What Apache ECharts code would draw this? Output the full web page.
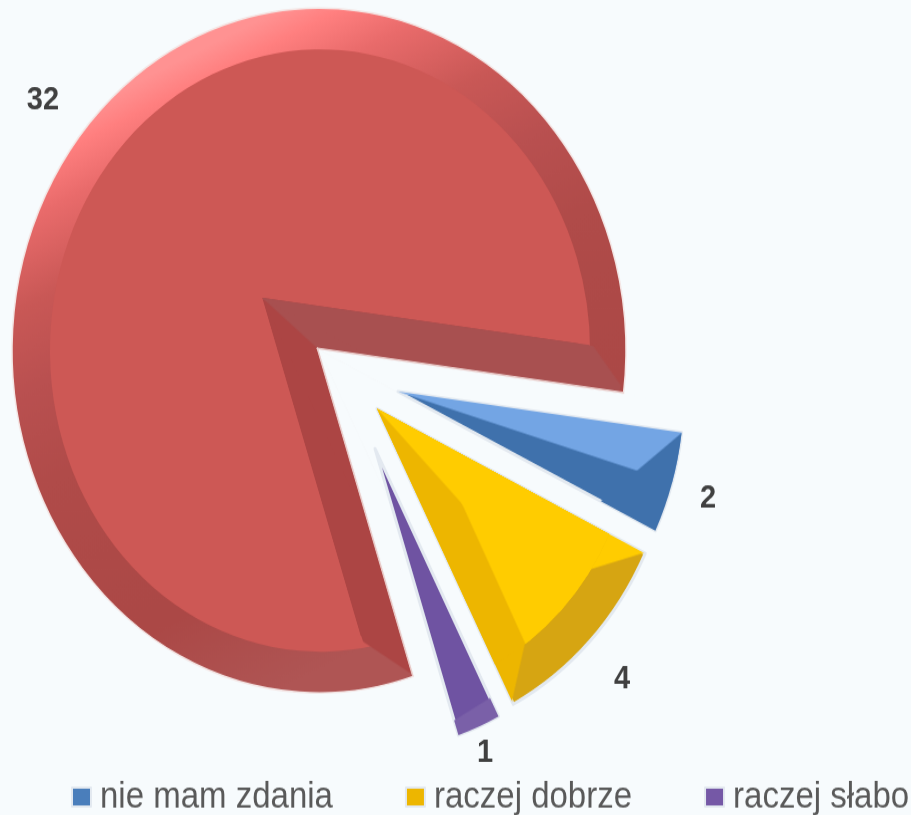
<!DOCTYPE html>
<html>
<head>
<meta charset="utf-8">
<script src="https://cdn.jsdelivr.net/npm/echarts@6/dist/echarts.min.js"></script>
<style>
html,body{margin:0;padding:0;background:#F7FBFD;overflow:hidden;width:911px;height:815px}
#wrap{width:911px;height:815px;overflow:hidden}
#c{width:911px;transform-origin:0 0}
</style>
</head>
<body>
<div id="wrap"><div id="c"></div></div>
<script>
// Data
const categories = ['', 'nie mam zdania', 'raczej dobrze', 'raczej słabo'];
const values = [32, 2, 4, 1];
const legendItems = ['nie mam zdania', 'raczej dobrze', 'raczej słabo'];

// The picture is stretched vertically: circles appear as ellipses
const S = 1.114;
const H = 815;
const el = document.getElementById('c');
el.style.height = (H / S) + 'px';
el.style.transform = 'scaleY(' + S + ')';
const P = (x, y) => [x, y / S];

const START = -72;
const BG = '#F7FBFD';
const T = 'rgba(0,0,0,0)';

function grad(p0, p1, stops) {
  return {type:'linear', x:p0[0], y:p0[1], x2:p1[0], y2:p1[1], global:true,
          colorStops:stops.map(s => ({offset:s[0], color:s[1]}))};
}
function clear(hex) {
  const n = parseInt(hex.slice(1), 16);
  return 'rgba(' + (n>>16) + ',' + ((n>>8)&255) + ',' + (n&255) + ',0)';
}
// colour limited to the side of the line pq on which "keep" lies
function halfPlane(color, p, q, keep) {
  const dx = q[0]-p[0], dy = q[1]-p[1], len = Math.hypot(dx,dy);
  let nx = -dy/len, ny = dx/len;
  if ((keep[0]-p[0])*nx + (keep[1]-p[1])*ny < 0) { nx = -nx; ny = -ny; }
  const L = 1500;
  return grad([p[0]+nx*L, p[1]+ny*L], [p[0]-nx*L, p[1]-ny*L],
    [[0,color],[0.4997,color],[0.5003,clear(color)],[1,clear(color)]]);
}
// One pie layer: colours[i] paints slice i, the others stay empty
function layer(center, r, colours, extra) {
  extra = extra || {};
  return {
    type:'pie', silent:true, animation:false, center:center, radius:[0,r],
    startAngle:START, avoidLabelOverlap:false,
    label:{show:false}, labelLine:{show:false},
    emphasis:{disabled:true},
    data: values.map((v,i) => ({
      name: extra.named && colours[i] ? categories[i] : '',
      value:v,
      itemStyle: Object.assign({color: colours[i] || T, borderWidth:0},
                               colours[i] ? (extra.itemStyle||{}) : {},
                               colours[i] && extra.seal ? {borderColor:colours[i], borderWidth:1} : {}),
      label: {show:false}
    })),
    ...(extra.series||{})
  };
}
function only(i, c) { const a=[null,null,null,null]; a[i]=c; return a; }

function labelled(pos) {
  return {
    named:true,
    series:{
      labelLayout:function(){ return {x:pos[0], y:pos[1], align:'center', verticalAlign:'middle'}; }
    }
  };
}
function withLabel(s, i) {
  s.data[i].label = {show:true, position:'outside', formatter:String(values[i]),
    color:'#404040', fontFamily:'Liberation Sans', fontWeight:'bold', fontSize:29};
  s.data[i].labelLine = {show:false};
  return s;
}

const series = [];
const halo = {borderColor:'#E3E9F0', borderWidth:3};

// Red slice
const rC = P(319, 350), rR = 307;
const rim = grad([0,0],[291,640],[[0.176,'#FF9292'],[0.212,'#FF7F7F'],[0.27,'#E96B6B'],[0.37,'#C95856'],[0.47,'#B95050'],[0.59,'#B04B49'],[0.82,'#AB4846'],[0.965,'#AF5554'],[1,'#AF5554']]);
series.push(withLabel(layer(rC, rR, only(0, rim),
  Object.assign(labelled(P(43,100)), {itemStyle:{borderColor:'#F4E6E5', borderWidth:1.5}})), 0));
// face disc
series.push(layer(P(320,350), 270, ['#CD5855','#CD5855','#CD5855','#CD5855']));
// inner walls of the notch
const iA = P(263,298), nA = P(317,347.5);
const lowWall = '#AC4544', upWall = halfPlane('#A85050', iA, nA, P(500,320));
series.push(layer(iA, 318, [null,lowWall,lowWall,lowWall], {seal:true}));
series.push(layer(iA, 329, [null,upWall,upWall,upWall], {seal:true}));
// walls run on to the corners of the slice
series.push(layer(iA, 366, only(3, halfPlane(lowWall, P(362,640), P(410,672), P(420,600)))));
series.push(layer(iA, 366, only(1, halfPlane('#A85050', P(588,338), P(623,388), P(500,360)))));
// the notch itself, with its pale edge
series.push(layer(nA, 309, [null,'#EBCFCD','#EBCFCD','#EBCFCD'], {seal:true}));
series.push(layer([nA[0]+2.3, nA[1]+1.9], 335, [null,BG,BG,BG], {seal:true}));

// Blue slice
const bA = P(398,391), bC1 = P(682,432), bC2 = P(655,527), bV = P(637,470);
series.push(withLabel(layer(bA, 286, only(1,'#3F71AC'), Object.assign(labelled(P(708,498)),{itemStyle:halo})), 1));
series.push(layer(bA, 286, only(1, halfPlane('#73A5E4', bA, bV, P(600,420)))));
series.push(layer(bA, 286, only(1, halfPlane('#3F71AC', bV, bC1, bC2))));

// Yellow slice
const yA = P(377,408), yC1 = P(644,552), yC2 = P(512,700);
const yRim = '#D6A512', yStrip = '#EDB600', yFace = '#FFCC00';
const yK1 = P(462,503), yK2 = P(525,642), yK3 = P(592,568);
series.push(withLabel(layer(yA, 298, only(2,yRim), Object.assign(labelled(P(622,678)),{itemStyle:halo})), 2));
series.push(layer(yA, 298, only(2, halfPlane(yStrip, yK2, yC2, P(400,500)))));
series.push(layer(yA, 298, only(2, halfPlane(yFace, yK3, yC1, P(500,500)))));
series.push(layer(yA, 258, only(2, yStrip)));
series.push(layer(yA, 258, only(2, halfPlane(yFace, yK1, yK2, P(550,520)))));
series.push(layer(yA, 258, only(2, halfPlane(yFace, yA, yK1, P(500,470)))));

// Purple slice
const pA = P(375,448);
series.push(withLabel(layer(pA, 270, only(3,'#6F53A2'), Object.assign(labelled(P(485,752)),{itemStyle:halo})), 3));
series.push(layer(pA, 270, only(3, halfPlane('#7A60A8', P(466,712), P(490,697), P(480,725)))));

const legendColours = {'nie mam zdania':'#4A7EBB','raczej dobrze':'#EDB600','raczej słabo':'#7558A6'};

const chart = echarts.init(el, null, {renderer:'canvas', width:911, height:H/S});
chart.setOption({
  backgroundColor:BG,
  animation:false,
  legend:{
    show:true, selectedMode:false, orient:'horizontal', left:71, top:698, width:840, padding:0,
    itemWidth:19, itemHeight:17, itemGap:72,
    icon:'rect',
    textStyle:{color:'#595959', fontFamily:'Liberation Sans', fontSize:33, padding:[0,0,0,4]},
    data:legendItems.map(n => ({name:n, itemStyle:{color:legendColours[n]}}))
  },
  series:series
});
</script>
</body>
</html>
